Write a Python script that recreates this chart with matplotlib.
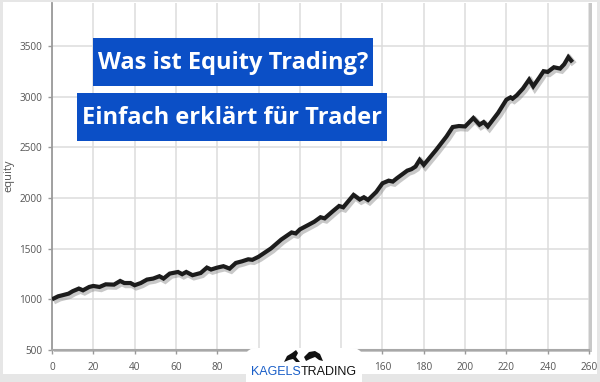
import matplotlib
matplotlib.use("Agg")
import matplotlib.pyplot as plt
import matplotlib.patheffects as pe
from matplotlib.patches import Rectangle, FancyBboxPatch, Polygon

# ---- data ----
trade_idx = [0, 3, 5, 8, 10, 13, 15, 18, 20, 23, 26, 30, 33, 35, 38, 40, 43, 46, 49,
             52, 54, 57, 61, 63, 65, 68, 72, 75, 77, 80, 83, 86, 89, 92, 95, 97, 100,
             106, 111, 116, 118, 120, 124, 127, 130, 132, 136, 139, 141, 146, 149, 151,
             153, 157, 160, 163, 165, 167, 172, 174, 176, 178, 180, 186, 191, 194, 197,
             200, 204, 207, 209, 211, 216, 220, 222, 223, 225, 228, 231, 233, 236, 238,
             240, 243, 246, 248, 250, 252]
equity = [1000, 1030, 1040, 1056, 1080, 1106, 1089, 1122, 1132, 1122, 1148, 1145, 1181,
          1161, 1161, 1139, 1161, 1195, 1205, 1228, 1205, 1254, 1270, 1248, 1270, 1238,
          1260, 1313, 1294, 1313, 1327, 1303, 1359, 1375, 1395, 1390, 1420, 1502, 1590,
          1660, 1650, 1690, 1733, 1766, 1810, 1799, 1870, 1921, 1908, 2030, 1985, 2007,
          1980, 2060, 2145, 2171, 2162, 2195, 2270, 2284, 2310, 2376, 2327, 2475, 2607,
          2700, 2710, 2706, 2789, 2723, 2749, 2706, 2840, 2970, 2993, 2980, 3013, 3080,
          3168, 3102, 3190, 3251, 3244, 3290, 3277, 3320, 3390, 3340]
x_ticks = list(range(0, 261, 20))
# labels 100-140 are hidden behind the logo in the reference
x_tick_labels = ["0", "20", "40", "60", "80", "", "", "", "160", "180", "200", "220",
                 "240", "260"]
y_ticks = [500, 1000, 1500, 2000, 2500, 3000, 3500]
title_1 = "Was ist Equity Trading?"
title_2 = "Einfach erklärt für Trader"
y_label = "equity"
logo_a = "KAGELS"
logo_b = "TRADING"

W, H = 600, 382
fig = plt.figure(figsize=(W / 100, H / 100), dpi=100, facecolor="#e6e6e6")

def fx(px):
    return px / W

def fy(py):
    return (H - py) / H

# white inner card
fig.patches.append(Rectangle((fx(3), fy(374)), fx(594), (374 - 2) / H,
                             transform=fig.transFigure, facecolor="white",
                             edgecolor="none", zorder=0))
# plot-area shadow
fig.patches.append(Rectangle((fx(54), fy(352)), fx(538), (352 - 3) / H,
                             transform=fig.transFigure, facecolor="#c8c8c8",
                             edgecolor="none", zorder=0.5))

ax = fig.add_axes([fx(52), fy(350), fx(589 - 52), (350 - 3) / H])
ax.set_facecolor("white")
ax.set_zorder(1)
ax.set_xlim(0, 260)
ax.set_ylim(500, 3924)
ax.set_xticks(x_ticks)
ax.set_xticklabels(x_tick_labels)
ax.set_yticks(y_ticks)
ax.grid(True, color="#dcdcdc", linewidth=1.1)
ax.set_axisbelow(True)
for s in ["top", "right"]:
    ax.spines[s].set_visible(False)
ax.spines["left"].set_color("#9a9a9a")
ax.spines["left"].set_linewidth(1.3)
ax.spines["bottom"].set_color("#a8a8a8")
ax.spines["bottom"].set_linewidth(1.5)
ax.tick_params(axis="both", colors="#9a9a9a", length=3, width=1,
               labelcolor="#555555", labelsize=7.2)
ax.tick_params(axis="x", pad=6)
ax.tick_params(axis="y", pad=4)
for lbl in ax.get_xticklabels() + ax.get_yticklabels():
    lbl.set_family("Open Sans")
fig.text(fx(9), fy(176), y_label, color="#555555", fontsize=8, family="Open Sans",
         rotation=90, ha="center", va="center")

ax.plot(trade_idx, equity, color="#1c1c1c", linewidth=3.0, solid_joinstyle="miter",
        solid_capstyle="butt",
        path_effects=[pe.SimpleLineShadow(offset=(1.2, -1.5), shadow_color="#777777",
                                          alpha=0.4, linewidth=4.5),
                      pe.Normal()], zorder=3)

# title boxes
blue = "#0b4fc6"
fig.patches.append(Rectangle((fx(93), fy(86)), fx(280), 48 / H, transform=fig.transFigure,
                             facecolor=blue, edgecolor="none", zorder=5))
fig.patches.append(Rectangle((fx(77), fy(141)), fx(310), 48 / H, transform=fig.transFigure,
                             facecolor=blue, edgecolor="none", zorder=5))
fig.text(fx(233), fy(63), title_1, color="white", fontsize=17, fontweight="bold",
         family="Open Sans", ha="center", va="center", zorder=6)
fig.text(fx(232), fy(118), title_2, color="white", fontsize=17, fontweight="bold",
         family="Open Sans", ha="center", va="center", zorder=6)

# logo patch
fig.patches.append(FancyBboxPatch((fx(246), fy(392)), fx(116), 44 / H,
                                  boxstyle="round,pad=0,rounding_size=0.02",
                                  transform=fig.transFigure, facecolor="white",
                                  edgecolor="none", zorder=5))
bull = [(284, 362), (287, 356), (292, 353), (296, 350), (298, 353), (296, 357),
        (300, 362), (296, 362), (293, 359), (289, 360)]
bear = [(304, 357), (309, 352), (315, 351), (320, 354), (323, 361), (319, 360),
        (315, 357), (310, 359), (306, 361)]
for shape in (bull, bear):
    fig.patches.append(Polygon([(fx(a), fy(b)) for a, b in shape], closed=True,
                               transform=fig.transFigure, facecolor="#111111",
                               edgecolor="none", zorder=6))
fig.text(fx(301), fy(372), logo_a, color="#1a5fc8", fontsize=9,
         family="Liberation Sans", ha="right", va="center", zorder=6)
fig.text(fx(301), fy(372), logo_b, color="#111111", fontsize=9,
         family="Liberation Sans", ha="left", va="center", zorder=6)

fig.savefig("out.png", dpi=100, facecolor=fig.get_facecolor())
